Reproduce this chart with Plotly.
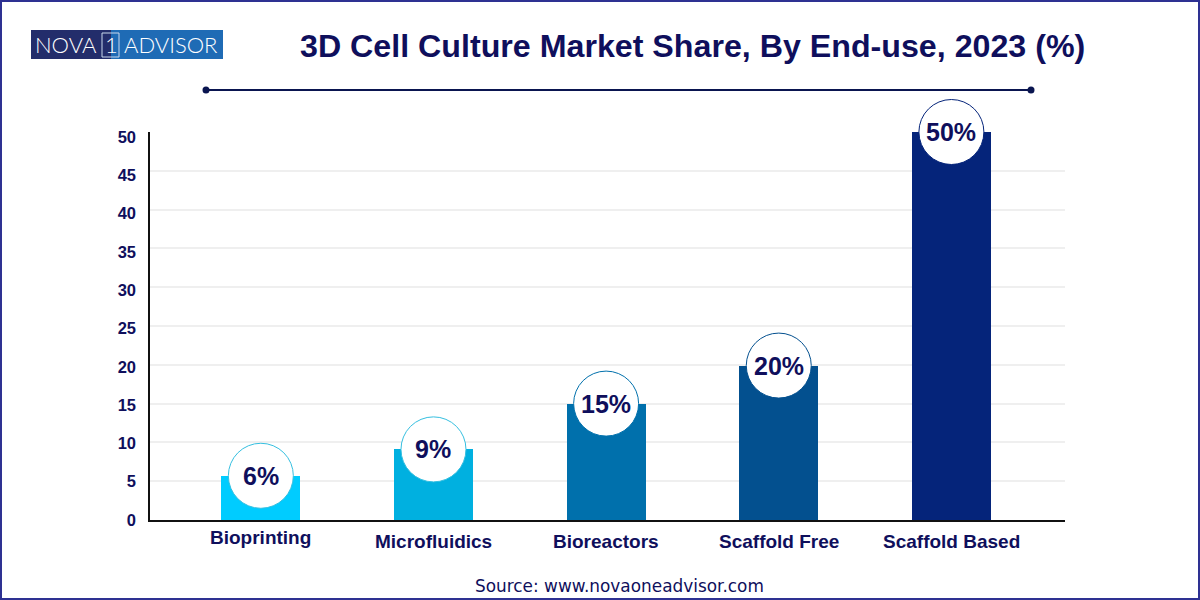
import plotly.graph_objects as go

categories = ["Bioprinting", "Microfluidics", "Bioreactors", "Scaffold Free", "Scaffold Based"]
bar_values = [5.7, 9.1, 15, 19.9, 50]
share_labels = ["6%", "9%", "15%", "20%", "50%"]
bar_colors = ["#00CCFF", "#00B0E0", "#0070AC", "#03508F", "#05247A"]
ring_colors = ["#35BFE0", "#35BFE0", "#0070AC", "#03508F", "#05247A"]
y_ticks = [0, 5, 10, 15, 20, 25, 30, 35, 40, 45, 50]

NAVY = "#0F0F5C"
W, H = 1200, 600
LEFT, RIGHT, TOP, BOTTOM = 150, 1065, 132, 520


# layout is measured in pixels from the top left of the picture
def px(x):
    return (x - LEFT) / (RIGHT - LEFT)


def py(y):
    return (BOTTOM - y) / (BOTTOM - TOP)


def paper_shape(kind, x0, y0, x1, y1, **kw):
    return dict(type=kind, xref="paper", yref="paper", x0=px(x0), x1=px(x1), y0=py(y0), y1=py(y1), **kw)


def paper_text(text, x, y, size, color=NAVY, family="Liberation Sans", weight="normal"):
    return dict(text=text, xref="paper", yref="paper", x=px(x), y=py(y), showarrow=False,
                xanchor="center", yanchor="middle", font=dict(family=family, size=size, color=color, weight=weight))


fig = go.Figure()
fig.add_bar(x=categories, y=bar_values, width=0.458, marker=dict(color=bar_colors, line_width=0), hoverinfo="skip")
fig.add_scatter(
    x=categories, y=bar_values, mode="markers",
    marker=dict(size=65, color="white", line=dict(color=ring_colors, width=1)),
    cliponaxis=False, hoverinfo="skip",
)
# empty trace so the tick label axis gets drawn
fig.add_scatter(x=categories[:1], y=y_ticks[:1], yaxis="y2", mode="markers", marker_opacity=0, hoverinfo="skip")

shapes = [
    paper_shape("rect", 1, 1, W - 1, H - 1, line=dict(color="#2E3192", width=2), fillcolor="rgba(0,0,0,0)"),
    # logo
    paper_shape("rect", 31, 30, 111, 59, fillcolor="#232D6B", line_width=0),
    paper_shape("rect", 111, 30, 223, 59, fillcolor="#1F6BB5", line_width=0),
    paper_shape("rect", 102, 33, 119, 57, line=dict(color="#C9D8EC", width=1), fillcolor="rgba(0,0,0,0)"),
    # rule under the title
    paper_shape("line", 206, 90, 1031, 90, line=dict(color="#0A1550", width=2)),
    paper_shape("circle", 202.5, 86.5, 209.5, 93.5, fillcolor="#0A1550", line_width=0),
    paper_shape("circle", 1027.5, 86.5, 1034.5, 93.5, fillcolor="#0A1550", line_width=0),
]

annotations = [
    paper_text("NOVA", 66, 45, 22, "white", "Lato", 300),
    paper_text("1", 111, 45, 22, "white", "Lato", 300),
    paper_text("ADVISOR", 171, 45, 22, "white", "Lato", 300),
    paper_text("3D Cell Culture Market Share, By End-use, 2023 (%)", 692, 46, 32.2, weight="bold"),
    paper_text("Source: www.novaoneadvisor.com", 619, 586, 16.9, family="DejaVu Sans"),
]

# share labels centred on their circles
for name, value, label in zip(categories, bar_values, share_labels):
    annotations.append(dict(text=label, x=name, y=value, xref="x", yref="y", showarrow=False,
                            xanchor="center", yanchor="middle",
                            font=dict(family="Liberation Sans", size=25, color=NAVY, weight="bold")))

# category labels do not sit on one baseline in the reference
label_y = [537, 541, 541, 541, 541]
for name, y in zip(categories, label_y):
    annotations.append(dict(text=name, x=name, xref="x", yref="paper", y=py(y), showarrow=False,
                            xanchor="center", yanchor="middle",
                            font=dict(family="Liberation Sans", size=19, color=NAVY, weight="bold")))

fig.update_layout(
    width=W, height=H, margin=dict(l=LEFT, r=W - RIGHT, t=TOP, b=H - BOTTOM, pad=0),
    paper_bgcolor="white", plot_bgcolor="white", showlegend=False, bargap=0,
    shapes=shapes, annotations=annotations,
    # the tick labels in the reference are spaced slightly tighter than the gridlines
    yaxis2=dict(overlaying="y", side="left", anchor="x", range=[0, 50.65], tickvals=y_ticks, showgrid=False,
                zeroline=False, showline=False, ticks="", ticklabelstandoff=13,
                tickfont=dict(family="Liberation Sans", size=16.5, color=NAVY, weight="bold")),
)
fig.update_xaxes(type="category", range=[-0.642, 4.658], showticklabels=False, ticks="", showgrid=False,
                 showline=True, linecolor="#111111", linewidth=2, zeroline=False)
fig.update_yaxes(range=[0, 50], tickvals=y_ticks, showticklabels=False, showgrid=True, gridcolor="#EFEFEF", gridwidth=2,
                 showline=True, linecolor="#111111", linewidth=2, zeroline=False, ticks="", selector=dict(overlaying=None))

# the page's default body margin would push the figure off the window
fig.write_html("out.html", config=dict(displayModeBar=False), post_script="document.body.style.margin = '0';")
